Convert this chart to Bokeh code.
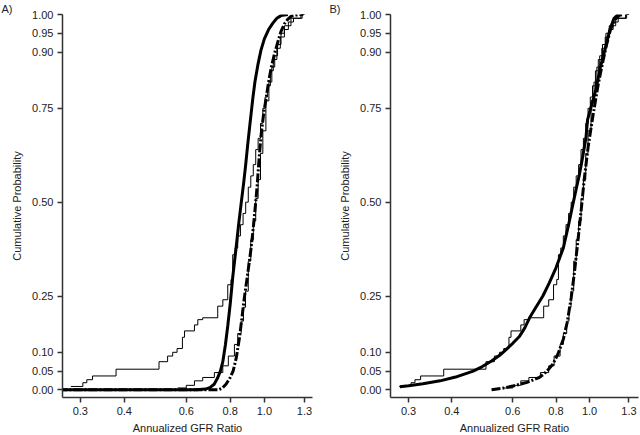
from bokeh.plotting import figure
from bokeh.layouts import row
from bokeh.models import FixedTicker, CustomJSTickFormatter, Range1d, Title
from bokeh.embed import file_html
from bokeh.resources import INLINE

# ---------------- data ----------------
x_ticks = [0.3, 0.4, 0.6, 0.8, 1.0, 1.3]
y_ticks = [0.0, 0.05, 0.10, 0.25, 0.50, 0.75, 0.90, 0.95, 1.00]
panel_labels = ["A)", "B)"]
x_title = "Annualized GFR Ratio"
y_title = "Cumulative Probability"

# empirical CDF, group 1 (same in both panels)
ecdf1_x = [0.282, 0.305, 0.313, 0.325, 0.379, 0.502, 0.531, 0.549, 0.565, 0.585,
           0.593, 0.633, 0.647, 0.668, 0.737, 0.762, 0.787, 0.804, 0.813, 0.826,
           0.840, 0.855, 0.870, 0.885, 0.900, 0.915, 0.930, 0.945, 0.960, 0.975,
           0.990, 1.005, 1.020, 1.040, 1.060, 1.085, 1.110, 1.140, 1.170, 1.210,
           1.270, 1.300]
ecdf1_y = [0.009, 0.019, 0.027, 0.037, 0.055, 0.075, 0.090, 0.100, 0.110, 0.140,
           0.157, 0.173, 0.187, 0.192, 0.223, 0.240, 0.280, 0.294, 0.360, 0.378,
           0.410, 0.440, 0.470, 0.500, 0.540, 0.570, 0.600, 0.640, 0.670, 0.710,
           0.750, 0.780, 0.810, 0.850, 0.880, 0.910, 0.940, 0.960, 0.980, 0.990,
           1.000, 1.000]

# empirical CDF, group 2 (same in both panels)
ecdf2_x = [0.567, 0.600, 0.633, 0.668, 0.721, 0.762, 0.790, 0.822, 0.840, 0.859,
           0.872, 0.884, 0.900, 0.915, 0.930, 0.945, 0.960, 0.975, 0.990, 1.010,
           1.030, 1.050, 1.070, 1.090, 1.115, 1.140, 1.190, 1.280, 1.300]
ecdf2_y = [0.005, 0.012, 0.024, 0.033, 0.046, 0.064, 0.090, 0.121, 0.150, 0.183,
           0.220, 0.263, 0.343, 0.400, 0.450, 0.510, 0.560, 0.630, 0.690, 0.770,
           0.820, 0.860, 0.890, 0.920, 0.950, 0.970, 0.990, 1.000, 1.000]

# panel A fitted curves
fitA1_x = [0.26, 0.640, 0.680, 0.700, 0.720, 0.735, 0.750, 0.762, 0.775, 0.787,
           0.800, 0.813, 0.831, 0.845, 0.860, 0.873, 0.885, 0.896, 0.907, 0.927,
           0.940, 0.958, 0.978, 1.000, 1.028, 1.057, 1.085, 1.115, 1.166]
fitA1_y = [0.000, 0.000, 0.002, 0.006, 0.015, 0.030, 0.050, 0.075, 0.120, 0.170,
           0.230, 0.300, 0.378, 0.440, 0.500, 0.550, 0.600, 0.650, 0.696, 0.776,
           0.820, 0.865, 0.905, 0.935, 0.960, 0.977, 0.990, 0.997, 1.000]
fitA2_x = [0.26, 0.740, 0.760, 0.778, 0.800, 0.815, 0.832, 0.850, 0.863, 0.877,
           0.897, 0.917, 0.932, 0.945, 0.955, 0.965, 0.979, 0.995, 1.011, 1.028,
           1.045, 1.068, 1.092, 1.115, 1.140, 1.165, 1.190, 1.250, 1.290]
fitA2_y = [0.000, 0.000, 0.005, 0.015, 0.033, 0.050, 0.085, 0.140, 0.190, 0.245,
           0.310, 0.378, 0.440, 0.500, 0.550, 0.610, 0.680, 0.735, 0.776, 0.820,
           0.857, 0.895, 0.927, 0.955, 0.975, 0.987, 0.995, 1.000, 1.000]

# panel B fitted curves
fitB1_x = [0.283, 0.300, 0.330, 0.370, 0.410, 0.461, 0.490, 0.521, 0.550, 0.575,
           0.600, 0.628, 0.650, 0.671, 0.700, 0.733, 0.765, 0.800, 0.820, 0.840,
           0.870, 0.893, 0.915, 0.934, 0.955, 0.976, 0.987, 1.015, 1.043, 1.075,
           1.114, 1.145, 1.177, 1.210]
fitB1_y = [0.008, 0.011, 0.016, 0.024, 0.034, 0.050, 0.062, 0.077, 0.092, 0.108,
           0.124, 0.143, 0.165, 0.192, 0.220, 0.250, 0.285, 0.325, 0.352, 0.378,
           0.440, 0.490, 0.535, 0.572, 0.620, 0.670, 0.720, 0.760, 0.800, 0.860,
           0.915, 0.960, 0.990, 1.000]
fitB2_x = [0.521, 0.560, 0.600, 0.660, 0.717, 0.750, 0.783, 0.810, 0.840, 0.862,
           0.885, 0.905, 0.923, 0.945, 0.965, 0.990, 1.020, 1.040, 1.060, 1.090,
           1.120, 1.150, 1.180, 1.220, 1.250]
fitB2_y = [0.000, 0.004, 0.010, 0.020, 0.033, 0.048, 0.068, 0.095, 0.135, 0.180,
           0.245, 0.315, 0.387, 0.475, 0.560, 0.645, 0.723, 0.770, 0.815, 0.870,
           0.920, 0.960, 0.985, 0.998, 1.000]

panels = [
    (fitA1_x, fitA1_y, fitA2_x, fitA2_y),
    (fitB1_x, fitB1_y, fitB2_x, fitB2_y),
]

FONT = "Liberation Sans"
TXT = "#222222"
AX = "#333333"


def make_panel(i, fx1, fy1, fx2, fy2, frame_w, right_border, xr):
    p = figure(x_axis_type="log", output_backend="svg", toolbar_location=None,
               frame_width=frame_w, frame_height=383,
               min_border_left=62, min_border_right=right_border,
               min_border_top=14, min_border_bottom=37,
               x_range=Range1d(*xr), y_range=Range1d(-0.0204, 1.0))
    p.outline_line_color = None
    p.xgrid.visible = False
    p.ygrid.visible = False
    p.background_fill_color = "white"
    p.border_fill_color = "white"

    for ax in (p.xaxis[0], p.yaxis[0]):
        ax.axis_line_color = AX
        ax.axis_line_width = 1.5
        ax.major_tick_line_color = AX
        ax.major_tick_line_width = 1.5
        ax.major_tick_out = 5
        ax.major_tick_in = 0
        ax.minor_tick_line_color = None
        ax.major_label_text_font = FONT
        ax.major_label_text_font_size = "11px"
        ax.major_label_text_color = TXT
        ax.axis_label_text_font = FONT
        ax.axis_label_text_font_size = "11px"
        ax.axis_label_text_font_style = "normal"
        ax.axis_label_text_color = TXT
        ax.major_label_standoff = 4

    p.xaxis.ticker = FixedTicker(ticks=x_ticks)
    p.xaxis.formatter = CustomJSTickFormatter(code="return tick.toFixed(1)")
    p.xaxis.axis_label = x_title
    p.xaxis.axis_label_standoff = 4
    p.yaxis.ticker = FixedTicker(ticks=y_ticks)
    p.yaxis.formatter = CustomJSTickFormatter(code="return tick.toFixed(2)")
    p.yaxis.major_label_orientation = "horizontal"
    p.yaxis.axis_label = y_title
    p.yaxis.axis_label_standoff = 6

    # empirical step functions (thin)
    p.step(ecdf1_x, ecdf1_y, mode="after", line_color="black", line_width=1)
    p.step(ecdf2_x, ecdf2_y, mode="after", line_color="black", line_width=1)
    # fitted curves (thick)
    p.line(fx1, fy1, line_color="black", line_width=3)
    p.line(fx2, fy2, line_color="black", line_width=3, line_dash="9 2 2 2")

    p.add_layout(Title(text=panel_labels[i], align="left", offset=-61, standoff=0,
                       text_font=FONT, text_font_size="11px",
                       text_font_style="normal", text_color=TXT), "above")
    return p


pA = make_panel(0, *panels[0], frame_w=250, right_border=16, xr=(0.267, 1.37))
pB = make_panel(1, *panels[1], frame_w=248, right_border=2, xr=(0.266, 1.385))
layout = row(pA, pB)

open("out.html", "w").write(file_html(layout, INLINE))
